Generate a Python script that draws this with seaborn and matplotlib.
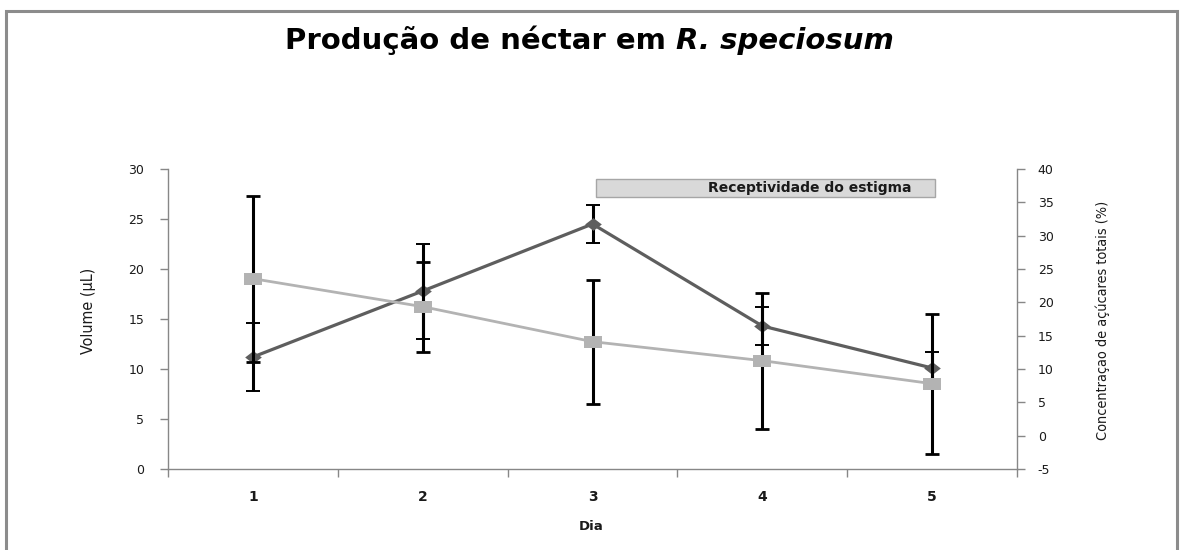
import numpy as np
import pandas as pd
import matplotlib
matplotlib.use("Agg")
import matplotlib.pyplot as plt
import seaborn as sns
from matplotlib.patches import Rectangle

# ---------------- data ----------------
days = [1, 2, 3, 4, 5]
day_labels = ["1", "2", "3", "4", "5"]
volume = [11.2, 17.8, 24.5, 14.3, 10.1]
volume_err = [3.4, 4.75, 1.9, 1.87, 1.57]
concentration = [23.55, 19.35, 14.1, 11.25, 7.8]
concentration_err = [12.45, 6.75, 9.3, 10.2, 10.5]
left_ticks = [0, 5, 10, 15, 20, 25, 30]
right_ticks = [-5, 0, 5, 10, 15, 20, 25, 30, 35, 40]
receptivity_span = (3.02, 5.02)
receptivity_label = "Receptividade do estigma"
title_main = "Produção de néctar em "
title_species = "R. speciosum"
xlabel = "Dia"
ylabel_left = "Volume (µL)"
ylabel_right = "Concentraçao de açúcares totais (%)"

# ---------------- style ----------------
sns.set_theme(style="white")
plt.rcParams['font.family'] = ['DejaVu Sans']

W, H = 1180, 550
fig = plt.figure(figsize=(W / 100, H / 100), dpi=100)
fig.patch.set_facecolor("white")

ax = fig.add_axes([168 / W, (H - 469) / H, (1017 - 168) / W, 300 / H])
ax2 = ax.twinx()

df = pd.DataFrame({"Dia": days, "Volume": volume, "Conc": concentration})

dark = "#5e5e5e"
light = "#b3b3b3"
axis_gray = "#878787"
txt = "#1a1a1a"

diamond = [(-1.3, 0), (0, 1), (1.3, 0), (0, -1), (-1.3, 0)]
rect = [(-1.5, -1), (1.5, -1), (1.5, 1), (-1.5, 1), (-1.5, -1)]

# volume series (left axis)
ax.errorbar(days, volume, yerr=volume_err, fmt="none", ecolor="black",
            elinewidth=2.2, capsize=5, capthick=1.4, zorder=2)
sns.lineplot(data=df, x="Dia", y="Volume", ax=ax, color=dark, lw=2.3,
             marker=diamond, markersize=12, markeredgecolor=dark,
             markeredgewidth=0, zorder=3, legend=False)

# concentration series (right axis)
ax2.errorbar(days, concentration, yerr=concentration_err, fmt="none",
             ecolor="black", elinewidth=2.2, capsize=5, capthick=2.0, zorder=2)
sns.lineplot(data=df, x="Dia", y="Conc", ax=ax2, color=light, lw=2.0,
             marker=rect, markersize=13, markeredgecolor=light,
             markeredgewidth=0, zorder=3, legend=False)

# axes limits / ticks
ax.set_xlim(0.5, 5.5)
ax.set_ylim(0, 30)
ax2.set_ylim(-5, 40)
ax.set_xticks(days)
ax.set_xticklabels(day_labels, fontsize=10, fontweight="bold", color=txt)
ax.set_xticks(np.arange(0.5, 6.0, 1.0), minor=True)
ax.tick_params(axis="x", which="major", length=0, pad=15)
ax.tick_params(axis="x", which="minor", length=6, width=1, color=axis_gray,
               direction="out", bottom=True)
ax.set_yticks(left_ticks)
ax.set_yticklabels([str(t) for t in left_ticks], fontsize=9, color=txt)
ax.tick_params(axis="y", length=6, width=1, color=axis_gray, pad=11,
               direction="out", left=True)
ax2.set_yticks(right_ticks)
ax2.set_yticklabels([str(t) for t in right_ticks], fontsize=9, color=txt)
ax2.tick_params(axis="y", length=6, width=1, color=axis_gray, pad=9,
                direction="out", right=True)
ax.set_xlabel("")
ax.set_ylabel("")
ax2.set_ylabel("")
ax.grid(False)
ax2.grid(False)

for a in (ax, ax2):
    for s in ["left", "bottom", "right"]:
        a.spines[s].set_color(axis_gray)
        a.spines[s].set_linewidth(1)
    a.spines["top"].set_visible(False)
ax.spines["right"].set_visible(False)
ax2.spines["left"].set_visible(False)
ax2.spines["bottom"].set_visible(False)

# receptivity box
x0, x1 = receptivity_span
ax.add_patch(Rectangle((x0, 27.2), x1 - x0, 1.8, facecolor="#d9d9d9",
                       edgecolor="#a6a6a6", lw=1, zorder=5, clip_on=False))
ax.text(x0 + 0.63 * (x1 - x0), 28.1, receptivity_label, ha="center",
        va="center", fontsize=10, fontweight="bold", color=txt, zorder=6)

# axis labels
fig.text(591 / W, (H - 527) / H, xlabel, ha="center", va="center",
         fontsize=9.5, fontweight="bold", color=txt)
lab_l = fig.text(88 / W, (H - 311) / H, ylabel_left, rotation=90, ha="center",
                 va="center", fontsize=12.5, color=txt, fontstretch="condensed")
lab_r = fig.text(1103 / W, (H - 320) / H, ylabel_right, rotation=90, ha="center",
                 va="center", fontsize=12.5, color=txt, fontstretch="condensed")

# title (bold + bold italic)
ty = (H - 49) / H
t1 = fig.text(0, ty, title_main, ha="left", va="baseline", fontsize=21,
              fontweight="bold", color="black")
t2 = fig.text(0, ty, title_species, ha="left", va="baseline", fontsize=21,
              fontweight="bold", style="italic", color="black")
fig.canvas.draw()
r = fig.canvas.get_renderer()
w1 = t1.get_window_extent(r).width
w2 = t2.get_window_extent(r).width
start = 589 - (w1 + w2) / 2
t1.set_x(start / W)
t2.set_x((start + w1) / W)

# fit the right-axis label to the reference length if no condensed face exists
hr = lab_r.get_window_extent(r).height
if hr > 250:
    scale = 240 / hr
    lab_r.set_fontsize(12.5 * scale)
    lab_l.set_fontsize(max(11.5, 12.5 * scale))

# outer frame
fig.add_artist(Rectangle((6 / W, -0.02), (1177 - 6) / W, (H - 11) / H + 0.02,
                         transform=fig.transFigure, fill=False,
                         edgecolor="#8c8c8c", lw=2.2))

fig.savefig("out.png", dpi=100)
